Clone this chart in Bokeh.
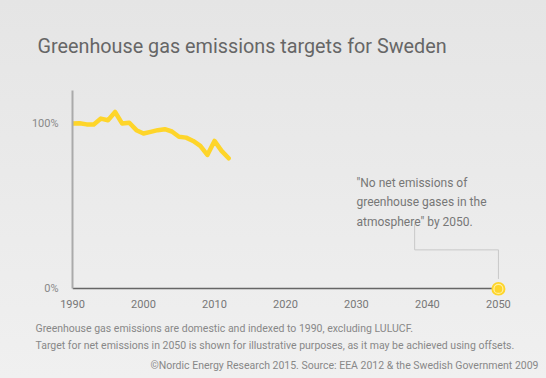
from bokeh.plotting import figure
from bokeh.models import Range1d, FixedTicker, Label, LinearAxis, Title
from bokeh.embed import file_html
from bokeh.resources import INLINE

years = list(range(1990, 2013))
emissions = [100, 100.2, 99.5, 99.5, 103, 102, 107, 100, 100.5, 96, 94, 95, 96,
             96.6, 95.2, 92, 91.5, 89.5, 86.5, 81, 89.5, 83.5, 79]
target_year = [2050]
target_value = [0]
x_ticks = [1990, 2000, 2010, 2020, 2030, 2040, 2050]
y_ticks = [0, 100]
y_tick_labels = {0: "0%", 100: "100%"}
connector_x = [2038.2, 2038.2, 2050, 2050]
connector_y = [39.4, 23.6, 23.6, 6]

title_text = "Greenhouse gas emissions targets for Sweden"
note1 = "Greenhouse gas emissions are domestic and indexed to 1990, excluding LULUCF."
note2 = "Target for net emissions in 2050 is shown for illustrative purposes, as it may be achieved using offsets."
source_text = "\u00a9Nordic Energy Research 2015. Source: EEA 2012 & the Swedish Government 2009"
annot_text = "\"No net emissions of\ngreenhouse gases in the\natmosphere\" by 2050."

FONT = "Roboto"

p = figure(width=546, height=378, output_backend="svg", toolbar_location=None,
           x_range=Range1d(1990, 2051.7), y_range=Range1d(-4, 120),
           min_border_left=72, min_border_right=36, min_border_top=90, min_border_bottom=83)
p.background_fill_alpha = 0
p.border_fill_alpha = 0
p.outline_line_color = None
p.grid.visible = False

# bottom axis: labels only
xa = p.xaxis[0]
xa.ticker = FixedTicker(ticks=x_ticks)
xa.axis_line_color = None
xa.major_tick_line_color = None
xa.minor_tick_line_color = None
xa.major_label_text_font = FONT
xa.major_label_text_font_size = "11px"
xa.major_label_text_color = "#777777"
xa.major_label_standoff = -2

# zero line axis
zero_axis = LinearAxis(fixed_location=0, bounds=(1990, 2050),
                       ticker=FixedTicker(ticks=[]), axis_line_color="#666666",
                       axis_line_width=1.3, major_tick_line_color=None,
                       minor_tick_line_color=None, major_label_text_font_size="0px",
                       level="underlay")
p.add_layout(zero_axis, "below")

ya = p.yaxis[0]
ya.bounds = (0, 120)
ya.ticker = FixedTicker(ticks=y_ticks)
ya.major_label_overrides = y_tick_labels
ya.axis_line_color = "#aaaaaa"
ya.axis_line_width = 2
ya.major_tick_line_color = None
ya.minor_tick_line_color = None
ya.major_label_text_font = FONT
ya.major_label_text_font_size = "11px"
ya.major_label_text_color = "#888888"
ya.major_label_standoff = 8

# connector line
p.line(connector_x, connector_y, line_color="#c8c8c8", line_width=1)

# emissions line
p.line(years, emissions, line_color="#fed52a", line_width=4.5,
       line_join="round", line_cap="round")

# target point
p.scatter(target_year, target_value, size=14, fill_color="#fed52a", line_color=None)
p.scatter(target_year, target_value, size=9, fill_color=None, line_color="#fff3b0",
          line_width=1.2, line_alpha=0.9)

# annotation
p.add_layout(Label(x=2030, y=68.5, text=annot_text, text_font=FONT,
                   text_font_size="12px", text_color="#777777", text_baseline="top",
                   text_line_height=1.4))

# title
p.add_layout(Title(text=title_text, align="left", offset=-35, standoff=65,
                   text_font=FONT, text_font_size="19.8px", text_color="#666666",
                   text_font_style="normal"), "above")

# spacer before the notes
p.add_layout(Title(text=" ", align="left", standoff=4, text_font_size="1px"), "below")

# notes
p.add_layout(Title(text=note1, align="left", offset=-37, standoff=4,
                   text_font=FONT, text_font_size="10.5px", text_color="#888888",
                   text_font_style="normal"), "below")
p.add_layout(Title(text=note2, align="left", offset=-37, standoff=0,
                   text_font=FONT, text_font_size="10.5px", text_color="#888888",
                   text_font_style="normal"), "below")
p.add_layout(Title(text=source_text, align="right", offset=-28, standoff=10,
                   text_font=FONT, text_font_size="10.5px", text_color="#888888",
                   text_font_style="normal"), "below")

html = file_html(p, INLINE)
html = html.replace("<head>", "<head><style>html,body{background:linear-gradient(#e5e5e5,#f0f0f0);min-height:100%;}</style>", 1)
open("out.html", "w").write(html)
